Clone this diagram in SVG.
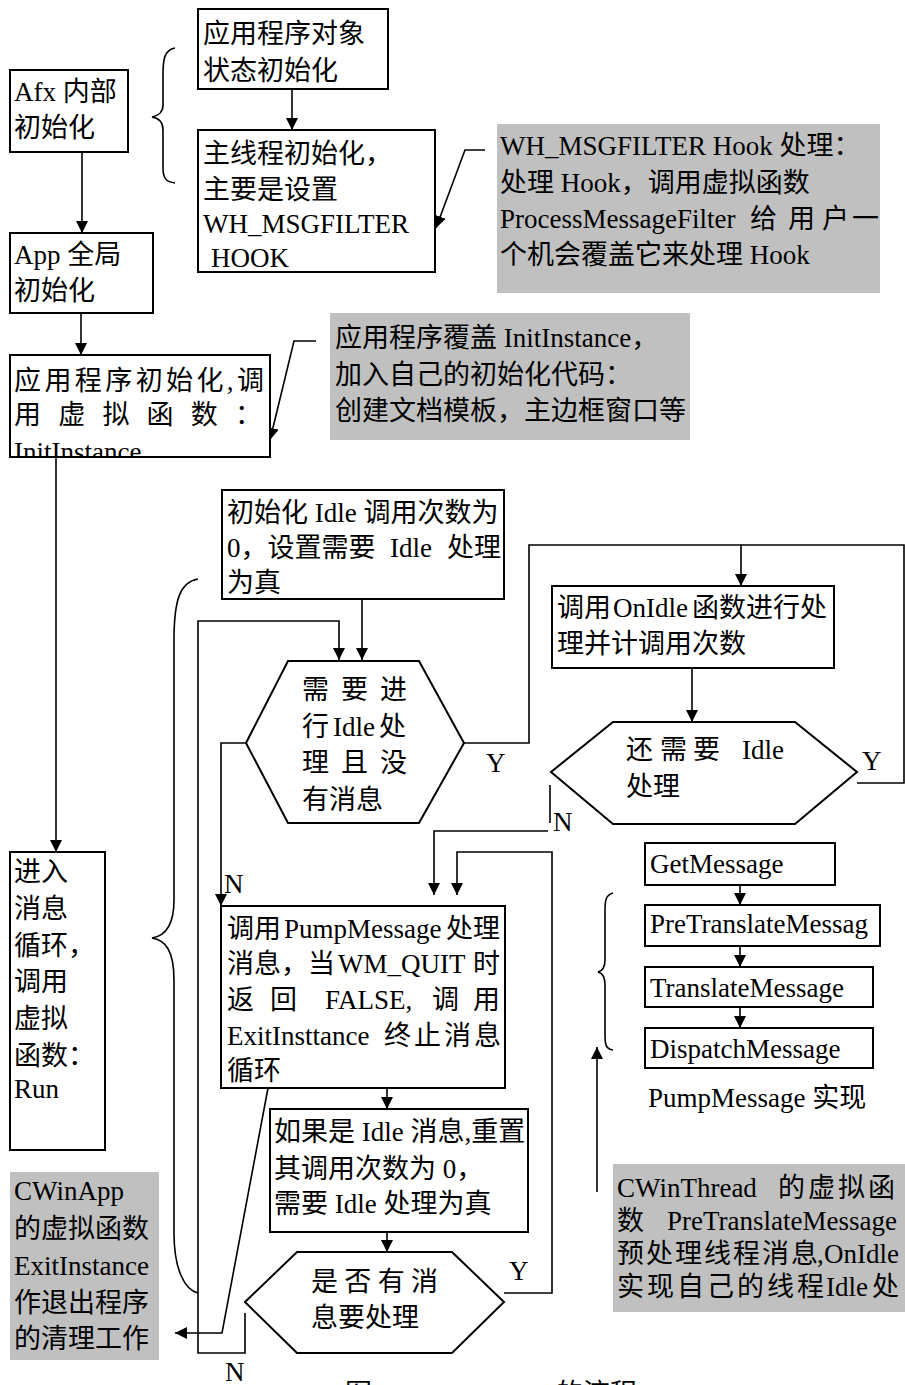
<svg xmlns="http://www.w3.org/2000/svg" width="905" height="1385" viewBox="0 0 905 1385">
<style>
text{font-family:"Liberation Serif","Noto Sans CJK SC",serif;font-size:27px;fill:#000}
.box{fill:#fff;stroke:#000;stroke-width:2}
.note{fill:#c0c0c0;stroke:none}
.ln{fill:none;stroke:#000;stroke-width:1.6}
.arr{fill:none;stroke:#000;stroke-width:1.6;marker-end:url(#ah)}
</style>
<defs>
<marker id="ah" viewBox="0 0 12 12" refX="12" refY="6" markerWidth="12" markerHeight="12" markerUnits="userSpaceOnUse" orient="auto">
<path d="M0,0 L12,6 L0,12 z" fill="#000"/>
</marker>
<clipPath id="clipInit"><rect x="10" y="355" width="260" height="102"/></clipPath>
</defs>
<rect width="905" height="1385" fill="#fff"/>

<g id="connectors">
<path class="arr" d="M292,89 L292,130"/>
<path class="arr" d="M82,152 L82,233"/>
<path class="arr" d="M81,313 L81,355"/>
<path class="arr" d="M485,150 L465,150 L436,228"/>
<path class="arr" d="M316,341 L294,341 L270,440"/>
<path class="arr" d="M56,457 L56,852"/>
<path class="ln" d="M175,48 C164,50 163,60 163,75 L163,105 C163,112 158,116 152,117 C158,118 163,122 163,130 L163,168 C163,178 166,182 175,183"/>
<path class="ln" d="M198,579 C180,582 174,600 174,640 L174,900 C174,925 165,936 152,938 C165,940 174,950 174,980 L174,1233 C174,1270 185,1290 198,1293"/>
<path class="ln" d="M613,893 C606,895 605,900 605,910 L605,960 C605,967 602,971 598,972 C602,973 605,977 605,985 L605,1035 C605,1045 606,1049 613,1050"/>
<path class="arr" d="M362,599 L362,660"/>
<path class="arr" d="M245,1313 L245,1353 L198,1353 L198,621 L339,621 L339,660"/>
<path class="arr" d="M464,743 L529,743 L529,545 L741,545 L741,586"/>
<path class="ln" d="M857,783 L904,783 L904,545 L741,545"/>
<path class="arr" d="M692,668 L692,722"/>
<path class="arr" d="M246,743 L221,743 L221,906"/>
<path class="ln" d="M550,785 L550,823"/>
<path class="arr" d="M548,831 L434,831 L434,895"/>
<path class="arr" d="M504,1293 L552,1293 L552,852 L457,852 L457,895"/>
<path class="arr" d="M387,1088 L387,1109"/>
<path class="arr" d="M387,1232 L387,1252"/>
<path class="arr" d="M268,1088 L222,1333 L175,1333"/>
<path class="arr" d="M740,885 L740,905"/>
<path class="arr" d="M740,946 L740,967"/>
<path class="arr" d="M740,1007 L740,1028"/>
<path class="arr" d="M597,1192 L597,1047"/>
<text x="486" y="772">Y</text>
<text x="862" y="770">Y</text>
<text x="553" y="831">N</text>
<text x="224" y="893">N</text>
<text x="509" y="1280">Y</text>
<text x="225" y="1381">N</text>
</g>

<g id="afx">
<rect class="box" x="10" y="70" width="118" height="82"/>
<text x="14" y="101">Afx 内部</text>
<text x="14" y="137">初始化</text>
</g>

<g id="appobj">
<rect class="box" x="198" y="9" width="190" height="80"/>
<text x="203" y="43">应用程序对象</text>
<text x="203" y="80">状态初始化</text>
</g>

<g id="mainthread">
<rect class="box" x="198" y="130" width="237" height="142"/>
<text x="203" y="163">主线程初始化，</text>
<text x="203" y="199">主要是设置</text>
<text x="203" y="233">WH_MSGFILTER</text>
<text x="211" y="267">HOOK</text>
</g>

<g id="note1">
<rect class="note" x="497" y="124" width="383" height="169"/>
<text x="500" y="155">WH_MSGFILTER Hook 处理：</text>
<text x="500" y="192">处理 Hook，调用虚拟函数</text>
<text x="500" y="228">ProcessMessageFilter<tspan x="750 788 822 852">给用户一</tspan></text>
<text x="500" y="264">个机会覆盖它来处理 Hook</text>
</g>

<g id="appglobal">
<rect class="box" x="10" y="233" width="143" height="80"/>
<text x="14" y="264">App 全局</text>
<text x="14" y="300">初始化</text>
</g>

<g id="initinstance">
<rect class="box" x="10" y="355" width="260" height="102"/>
<text x="14" y="390" textLength="250" lengthAdjust="spacing">应用程序初始化,调</text>
<text x="14" y="424" textLength="248" lengthAdjust="spacing">用虚拟函数：</text>
<text x="14" y="461" clip-path="url(#clipInit)">InitInstance</text>
</g>

<g id="note2">
<rect class="note" x="330" y="313" width="360" height="127"/>
<text x="335" y="347">应用程序覆盖 InitInstance，</text>
<text x="335" y="384">加入自己的初始化代码：</text>
<text x="335" y="420">创建文档模板，主边框窗口等</text>
</g>

<g id="initidle">
<rect class="box" x="222" y="490" width="282" height="109"/>
<text x="227" y="522">初始化 Idle 调用次数为</text>
<text x="227" y="557">0，设置需要<tspan x="390">Idle</tspan><tspan x="447">处理</tspan></text>
<text x="227" y="592">为真</text>
</g>

<g id="hex1">
<polygon class="box" points="246,743 288,661 419,661 464,743 419,823 288,823"/>
<text x="302" y="699" textLength="105" lengthAdjust="spacing">需要进</text>
<text x="302" y="736">行<tspan x="333">Idle</tspan><tspan x="379">处</tspan></text>
<text x="302" y="772" textLength="105" lengthAdjust="spacing">理且没</text>
<text x="302" y="809">有消息</text>
</g>

<g id="onidle">
<rect class="box" x="552" y="586" width="282" height="82"/>
<text x="557" y="617">调用<tspan x="613">OnIdle</tspan><tspan x="692">函数进行处</tspan></text>
<text x="557" y="653">理并计调用次数</text>
</g>

<g id="hex2">
<polygon class="box" points="551,772 613,722 795,722 857,772 795,824 613,824"/>
<text x="626 660 693" y="759">还需要<tspan x="742">Idle</tspan></text>
<text x="626" y="796">处理</text>
</g>

<g id="pump">
<rect class="box" x="221" y="906" width="284" height="182"/>
<text x="227" y="938">调用<tspan x="284">PumpMessage</tspan><tspan x="446">处理</tspan></text>
<text x="227" y="973">消息，当<tspan x="338">WM_QUIT</tspan><tspan x="473">时</tspan></text>
<text x="227 270" y="1009">返回<tspan x="325">FALSE,</tspan><tspan x="432 473">调用</tspan></text>
<text x="227" y="1045">ExitInsttance<tspan x="384 414 444 474">终止消息</tspan></text>
<text x="227" y="1080">循环</text>
</g>

<g id="idlemsg">
<rect class="box" x="270" y="1109" width="258" height="123"/>
<text x="274" y="1141">如果是 Idle 消息,重置</text>
<text x="274" y="1178">其调用次数为 0，</text>
<text x="274" y="1213">需要 Idle 处理为真</text>
</g>

<g id="hex3">
<polygon class="box" points="245,1302 297,1252 452,1252 504,1302 452,1353 297,1353"/>
<text x="311" y="1291" textLength="127" lengthAdjust="spacing">是否有消</text>
<text x="311" y="1327">息要处理</text>
</g>

<g id="run">
<rect class="box" x="10" y="852" width="95" height="298"/>
<text x="14" y="881">进入</text>
<text x="14" y="918">消息</text>
<text x="14" y="955">循环，</text>
<text x="14" y="991">调用</text>
<text x="14" y="1028">虚拟</text>
<text x="14" y="1065">函数：</text>
<text x="14" y="1098">Run</text>
</g>

<g id="cwinapp">
<rect class="note" x="10" y="1172" width="149" height="188"/>
<text x="14" y="1200">CWinApp</text>
<text x="14" y="1238">的虚拟函数</text>
<text x="14" y="1275">ExitInstance</text>
<text x="14" y="1312">作退出程序</text>
<text x="14" y="1348">的清理工作</text>
</g>

<g id="getmessage">
<rect class="box" x="645" y="843" width="190" height="42"/>
<text x="650" y="873">GetMessage</text>
</g>
<g id="pretranslate">
<rect class="box" x="645" y="905" width="235" height="41"/>
<text x="650" y="933">PreTranslateMessag</text>
</g>
<g id="translate">
<rect class="box" x="645" y="967" width="228" height="40"/>
<text x="650" y="997">TranslateMessage</text>
</g>
<g id="dispatch">
<rect class="box" x="645" y="1028" width="228" height="40"/>
<text x="650" y="1058">DispatchMessage</text>
</g>
<g id="pumplabel">
<text x="648" y="1107">PumpMessage 实现</text>
</g>

<g id="note3">
<rect class="note" x="613" y="1164" width="292" height="148"/>
<text x="617" y="1197">CWinThread<tspan x="778 808 838 868">的虚拟函</tspan></text>
<text x="617" y="1230">数<tspan x="667">PreTranslateMessage</tspan></text>
<text x="617 646 675 704 733 762 791 817" y="1263">预处理线程消息,<tspan x="824">OnIdle</tspan></text>
<text x="617 647 677 707 737 767 797" y="1296">实现自己的线程<tspan x="826">Idle</tspan><tspan x="872">处</tspan></text>
</g>

<g id="caption">
<text x="345" y="1403">图</text>
<text x="556" y="1403">的流程</text>
</g>
</svg>
